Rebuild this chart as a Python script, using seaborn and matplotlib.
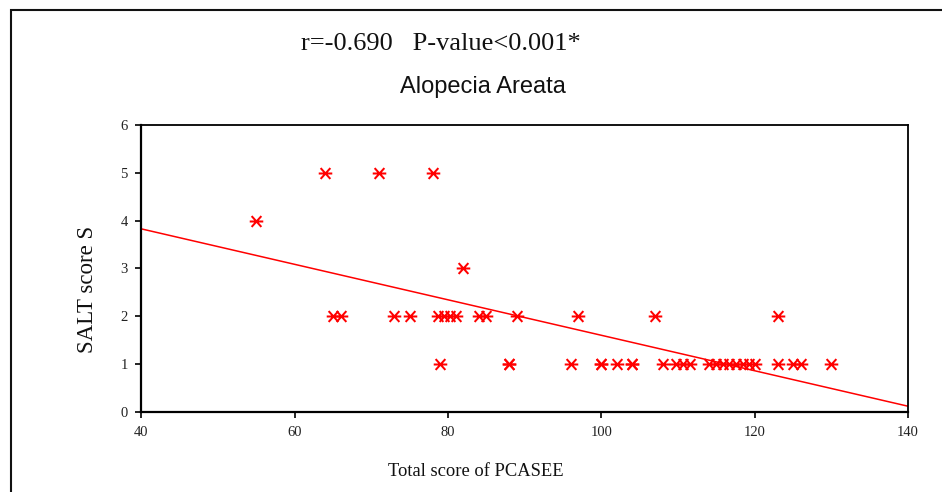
import matplotlib
matplotlib.use("Agg")
import matplotlib.pyplot as plt
from matplotlib.path import Path
from matplotlib.patches import Rectangle
import seaborn as sns
import pandas as pd

# ---- data ----
pcasee_salt4 = [55]
pcasee_salt5 = [64, 71, 78]
pcasee_salt3 = [82]
pcasee_salt2 = [65, 66, 73, 75, 78.7, 79.5, 80.3, 81, 84, 85, 89, 97, 107, 123]
pcasee_salt1 = [79, 88, 88, 96, 100, 100, 102, 104, 104, 108, 109.7, 110.6, 111.5,
                114, 115, 115.9, 116.6, 117.6, 118.5, 119.3, 120, 123, 125, 126, 130]

x_vals = pcasee_salt4 + pcasee_salt5 + pcasee_salt3 + pcasee_salt2 + pcasee_salt1
y_vals = ([4] * len(pcasee_salt4) + [5] * len(pcasee_salt5) + [3] * len(pcasee_salt3)
          + [2] * len(pcasee_salt2) + [1] * len(pcasee_salt1))
df = pd.DataFrame({"pcasee": x_vals, "salt": y_vals})

x_ticks = [40, 60, 80, 100, 120, 140]
y_ticks = [0, 1, 2, 3, 4, 5, 6]
stat_text = "r=-0.690   P-value<0.001*"
title_text = "Alopecia Areata"
x_label = "Total score of PCASEE"
y_label = "SALT score S"

# ---- style ----
sns.set_style("white")
plt.rcParams["font.family"] = ["Liberation Serif", "DejaVu Serif"]

fig = plt.figure(figsize=(9.42, 4.92), dpi=100)
ax = fig.add_axes([0.1502, 0.1632, 0.8137, 0.5827])
ax.set_xlim(40, 140)
ax.set_ylim(0, 6)

# star-like marker: X with a horizontal bar
star = Path([(-0.72, -0.8), (0.72, 0.8), (-0.72, 0.8), (0.72, -0.8), (-1, 0), (1, 0)],
            [Path.MOVETO, Path.LINETO, Path.MOVETO, Path.LINETO, Path.MOVETO, Path.LINETO])

sns.regplot(data=df, x="pcasee", y="salt", ax=ax, ci=None, truncate=False,
            color="#ff0000", marker=star,
            scatter_kws=dict(s=95, linewidths=1.45, alpha=1),
            line_kws=dict(linewidth=1.1))

ax.set_xlim(40, 140)
ax.set_ylim(0, 6)
ax.set_xticks(x_ticks)
ax.set_yticks(y_ticks)
ax.tick_params(axis="both", direction="out", length=4, width=1.2, color="black",
               labelsize=10.5, labelcolor="#222222", pad=6,
               bottom=True, left=True)
for sp in ax.spines.values():
    sp.set_color("black")
    sp.set_linewidth(1.3)
ax.spines["left"].set_linewidth(1.6)
ax.spines["bottom"].set_linewidth(1.6)

ax.set_xlabel(x_label, fontsize=13.3, color="#111111", va="center")
ax.xaxis.set_label_coords(0.4364, -0.2103)
ax.set_ylabel(y_label, fontsize=16.5, color="#111111", va="center")
ax.yaxis.set_label_coords(-0.0698, 0.428)

fig.text(441 / 942, 1 - 44 / 492, stat_text, ha="center", va="center",
         fontsize=19, color="#111111")
fig.text(483 / 942, 1 - 87 / 492, title_text, ha="center", va="center",
         fontsize=17, color="#111111", family=["Liberation Sans", "DejaVu Sans"])

# outer frame (only left and top edges visible)
fig.patches.append(Rectangle((10.5 / 942, -0.1), 1.2, 1.1 - 10 / 492,
                             transform=fig.transFigure, fill=False,
                             edgecolor="#111111", linewidth=1.5))

fig.savefig("out.png", dpi=100)
